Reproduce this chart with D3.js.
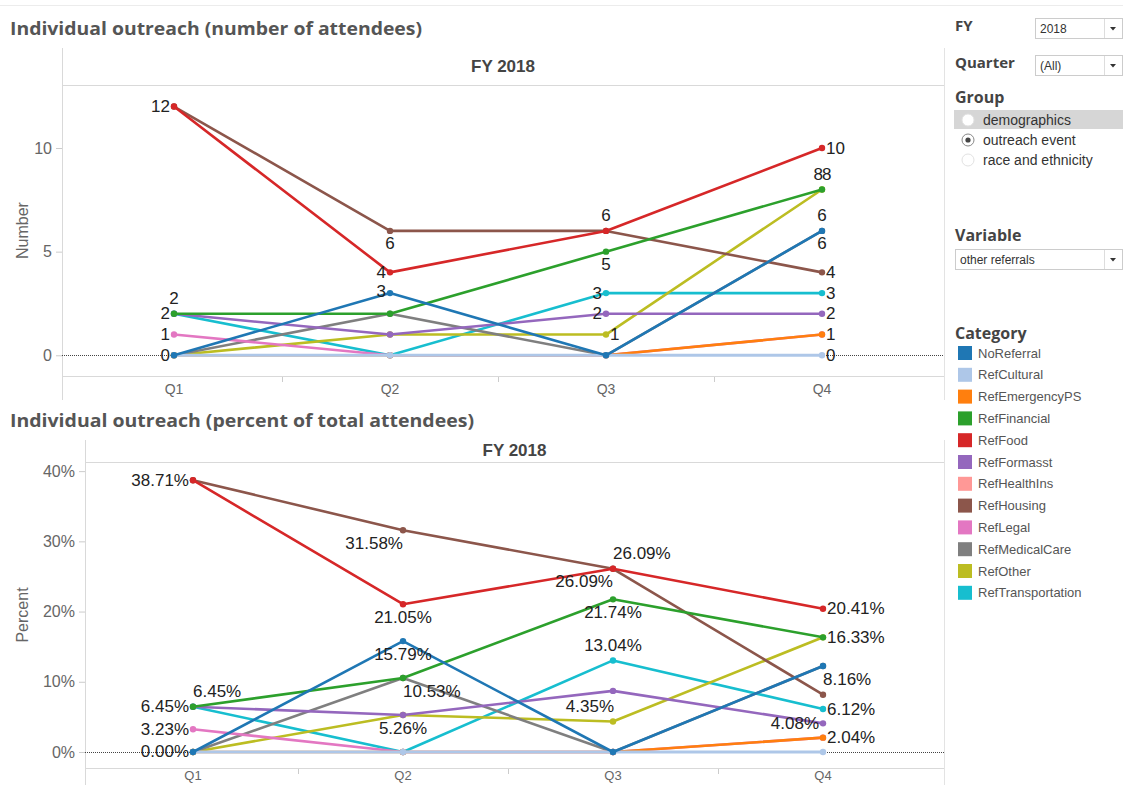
<!DOCTYPE html>
<html><head><meta charset="utf-8">
<script src="https://cdn.jsdelivr.net/npm/d3@7"></script>
<style>
body{margin:0;background:#fff;}
svg{display:block;}
</style></head>
<body><svg id="c" width="1123" height="785"></svg>
<script>
// ---------- data ----------
const quarters = ["Q1","Q2","Q3","Q4"];
const categories = ["NoReferral","RefCultural","RefEmergencyPS","RefFinancial","RefFood","RefFormasst","RefHealthIns","RefHousing","RefLegal","RefMedicalCare","RefOther","RefTransportation"];
const palette = ["#1f77b4","#aec7e8","#ff7f0e","#2ca02c","#d62728","#9467bd","#ff9896","#8c564b","#e377c2","#7f7f7f","#bcbd22","#17becf"];

// number of attendees per quarter
const cntNoReferral     = [0, 3, 0, 6];
const cntCultural       = [0, 0, 0, 0];
const cntEmergencyPS    = [0, 0, 0, 1];
const cntFinancial      = [2, 2, 5, 8];
const cntFood           = [12, 4, 6, 10];
const cntFormasst       = [2, 1, 2, 2];
const cntHealthIns      = [null, null, null, null];
const cntHousing        = [12, 6, 6, 4];
const cntLegal          = [1, 0, 0, 1];
const cntMedicalCare    = [0, 2, 0, 6];
const cntOther          = [0, 1, 1, 8];
const cntTransportation = [2, 0, 3, 3];

// percent of total attendees per quarter
const pctNoReferral     = [0, 15.79, 0, 12.24];
const pctCultural       = [0, 0, 0, 0];
const pctEmergencyPS    = [0, 0, 0, 2.04];
const pctFinancial      = [6.45, 10.53, 21.74, 16.33];
const pctFood           = [38.71, 21.05, 26.09, 20.41];
const pctFormasst       = [6.45, 5.26, 8.70, 4.08];
const pctHealthIns      = [null, null, null, null];
const pctHousing        = [38.71, 31.58, 26.09, 8.16];
const pctLegal          = [3.23, 0, 0, 2.04];
const pctMedicalCare    = [0, 10.53, 0, 12.24];
const pctOther          = [0, 5.26, 4.35, 16.33];
const pctTransportation = [6.45, 0, 13.04, 6.12];

const countTicks = [0, 5, 10];
const percentTicks = [0, 10, 20, 30, 40];

const countSeries = [cntNoReferral,cntCultural,cntEmergencyPS,cntFinancial,cntFood,cntFormasst,cntHealthIns,cntHousing,cntLegal,cntMedicalCare,cntOther,cntTransportation];
const pctSeries = [pctNoReferral,pctCultural,pctEmergencyPS,pctFinancial,pctFood,pctFormasst,pctHealthIns,pctHousing,pctLegal,pctMedicalCare,pctOther,pctTransportation];

// which points carry a label, and where (L/R/A/B, AS/AE = above start/end, BS/BE = below start/end)
const countLabels = [
  ["RefFood",0,"L"],["RefFinancial",0,"A"],["RefTransportation",0,"L"],["RefLegal",0,"L"],["RefOther",0,"L"],
  ["RefHousing",1,"B"],["RefFood",1,"L"],["NoReferral",1,"LA"],
  ["RefFood",2,"A"],["RefFinancial",2,"B"],["RefTransportation",2,"L"],["RefFormasst",2,"L"],["RefOther",2,"R"],
  ["RefFood",3,"R"],["RefFinancial",3,"AE"],["RefOther",3,"AS"],["NoReferral",3,"A"],["RefMedicalCare",3,"B"],
  ["RefHousing",3,"R"],["RefTransportation",3,"R"],["RefFormasst",3,"R"],["RefEmergencyPS",3,"R"],["RefCultural",3,"R"]
];
const pctLabels = [
  ["RefFood",0,"L"],["RefFinancial",0,"AS"],["RefTransportation",0,"L"],["RefLegal",0,"L"],["RefOther",0,"L"],
  ["RefHousing",1,"BE"],["RefFood",1,"B"],["NoReferral",1,"B"],["RefMedicalCare",1,"BS"],["RefOther",1,"B"],
  ["RefFood",2,"AS"],["RefHousing",2,"BE"],["RefFinancial",2,"B"],["RefTransportation",2,"A"],["RefOther",2,"AE"],
  ["RefFood",3,"R"],["RefFinancial",3,"R"],["RefHousing",3,"AS"],["RefTransportation",3,"R"],["RefFormasst",3,"L"],["RefEmergencyPS",3,"R"]
];

// ---------- drawing ----------
const svg = d3.select("#c");
const color = d3.scaleOrdinal(categories, palette);
const labelFont = "'Liberation Sans', Arial, sans-serif";
const titleFont = "'Open Sans', 'DejaVu Sans', sans-serif";

svg.append("line").attr("x1",0).attr("x2",1123).attr("y1",5.5).attr("y2",5.5).attr("stroke","#ececec");

function panel(o){
  const g = svg.append("g");
  g.append("text").attr("x",10).attr("y",o.titleY).text(o.title)
    .attr("font-family",titleFont).attr("font-weight",700).attr("font-size",18).attr("fill","#555")
    .attr("textLength",o.titleLen).attr("lengthAdjust","spacingAndGlyphs");
  const x = d3.scaleBand().domain(quarters).range(o.xRange);
  const y = d3.scaleLinear().domain(o.yDomain).range([o.plotBottom, o.plotTop]);
  const cx = q => x(q) + x.bandwidth()/2;
  // frame lines
  g.append("line").attr("x1",o.left+0.5).attr("x2",o.left+0.5).attr("y1",o.axisTop).attr("y2",o.axisBottom).attr("stroke","#d9d9d9");
  g.append("line").attr("x1",o.left).attr("x2",944).attr("y1",o.plotTop+0.5).attr("y2",o.plotTop+0.5).attr("stroke","#d9d9d9");
  g.append("line").attr("x1",o.left).attr("x2",944).attr("y1",o.plotBottom+0.5).attr("y2",o.plotBottom+0.5).attr("stroke","#d9d9d9");
  g.append("line").attr("x1",944.5).attr("x2",944.5).attr("y1",o.axisTop).attr("y2",o.axisBottom).attr("stroke","#e3e3e3");
  g.append("text").attr("x",(o.left+944)/2).attr("y",o.headerY).attr("text-anchor","middle")
    .attr("font-family","'Liberation Sans', Arial, sans-serif").attr("font-weight","bold").attr("font-size",17).attr("fill","#444").text("FY 2018");
  // y axis
  const ya = g.append("g").attr("transform",`translate(${o.left},0)`)
    .call(d3.axisLeft(y).tickValues(o.ticks).tickFormat(o.tickFmt).tickSize(6).tickPadding(4));
  ya.select(".domain").remove();
  ya.selectAll("line").attr("stroke","#ccc");
  ya.selectAll("text").attr("font-family",labelFont).attr("font-size",16).attr("fill","#666");
  g.append("text").attr("transform",`translate(${o.yTitleX},${(o.plotTop+o.plotBottom)/2}) rotate(-90)`)
    .attr("text-anchor","middle").attr("font-family",labelFont).attr("font-size",16).attr("fill","#666").text(o.yTitle);
  // x axis
  const xa = g.append("g").attr("transform",`translate(0,${o.plotBottom})`)
    .call(d3.axisBottom(x).tickSize(0).tickPadding(o.xPad));
  xa.select(".domain").remove();
  xa.selectAll("text").attr("font-family",labelFont).attr("font-size",o.xFont).attr("fill","#666");
  g.selectAll(".bt").data(quarters.slice(1)).join("line")
    .attr("x1",q=>x(q)+0.5).attr("x2",q=>x(q)+0.5).attr("y1",o.plotBottom+1).attr("y2",o.plotBottom+6).attr("stroke","#ccc");
  // zero line
  g.append("line").attr("x1",o.left).attr("x2",944).attr("y1",Math.round(y(0))+0.5).attr("y2",Math.round(y(0))+0.5)
    .attr("stroke","#444").attr("stroke-dasharray","1,1");
  // series (first legend item on top)
  const line = d3.line().defined(d=>d.v!=null).x(d=>cx(d.q)).y(d=>y(d.v));
  const order = d3.range(categories.length).reverse();
  order.forEach(i=>{
    const pts = quarters.map((q,j)=>({q, v:o.series[i][j]}));
    g.append("path").datum(pts).attr("d",line).attr("fill","none").attr("stroke",palette[i])
      .attr("stroke-width",i===1?3:2.6).attr("stroke-linejoin","round");
    g.selectAll(null).data(pts.filter(p=>p.v!=null)).join("circle")
      .attr("cx",p=>cx(p.q)).attr("cy",p=>y(p.v)).attr("r",3.2).attr("fill",palette[i]);
  });
  // labels
  o.labels.forEach(([cat,qi,pos])=>{
    const v = o.series[categories.indexOf(cat)][qi];
    const px = cx(quarters[qi]), py = y(v);
    let tx=px, ty=py, anchor="middle";
    if(pos==="L"){tx=px-4;anchor="end";}
    if(pos==="LA"){tx=px-4;anchor="end";ty=py-2;}
    if(pos==="R"){tx=px+4;anchor="start";}
    if(pos==="A"){ty=py-15;}
    if(pos==="B"){ty=py+13;}
    if(pos==="AS"){ty=py-15;anchor="start";}
    if(pos==="AE"){ty=py-15;anchor="end";tx=px+1;}
    if(pos==="BS"){ty=py+13;anchor="start";}
    if(pos==="BE"){ty=py+13;anchor="end";}
    g.append("text").attr("x",tx).attr("y",ty).attr("text-anchor",anchor).attr("dominant-baseline","central")
      .attr("font-family",labelFont).attr("font-size",17).attr("fill","#222").text(o.fmt(v));
  });
}

panel({title:"Individual outreach (number of attendees)", titleLen:412, titleY:35, headerY:72,
  left:62, axisTop:48, axisBottom:400, plotTop:85, plotBottom:376, xRange:[66,930], xPad:8, xFont:14,
  yDomain:[-1,13.04], ticks:countTicks, tickFmt:d3.format("d"), yTitle:"Number", yTitleX:28,
  series:countSeries, labels:countLabels, fmt:d3.format("d")});

panel({title:"Individual outreach (percent of total attendees)", titleLen:464, titleY:427, headerY:456,
  left:85, axisTop:440, axisBottom:785, plotTop:462, plotBottom:768, xRange:[88,928], xPad:3, xFont:13,
  yDomain:[-2.28,41.3], ticks:percentTicks, tickFmt:d=>d+"%", yTitle:"Percent", yTitleX:28,
  series:pctSeries, labels:pctLabels, fmt:v=>v.toFixed(2)+"%"});

// ---------- right panel ----------
const rp = svg.append("g");
const boldLbl = (t,x,y,s)=>rp.append("text").attr("x",x).attr("y",y).text(t)
  .attr("font-family",titleFont).attr("font-weight",700).attr("font-size",s).attr("fill","#444");
function dropdown(x,y,w,label){
  rp.append("rect").attr("x",x+0.5).attr("y",y+0.5).attr("width",w).attr("height",20).attr("fill","#fff").attr("stroke","#ccc");
  rp.append("line").attr("x1",x+w-17.5).attr("x2",x+w-17.5).attr("y1",y+1).attr("y2",y+20).attr("stroke","#ddd");
  rp.append("path").attr("d",`M${x+w-12},${y+9} l6,0 l-3,3.5z`).attr("fill","#333");
  rp.append("text").attr("x",x+5).attr("y",y+15).text(label).attr("font-family",labelFont).attr("font-size",12).attr("fill","#333");
}
boldLbl("FY",955,31,15); dropdown(1035,18,87,"2018");
boldLbl("Quarter",955,68,15); dropdown(1035,55,87,"(All)");
boldLbl("Group",955,103,16);
rp.append("rect").attr("x",954).attr("y",110).attr("width",169).attr("height",19).attr("fill","#d6d6d6");
const groups = ["demographics","outreach event","race and ethnicity"];
groups.forEach((gname,i)=>{
  const yy = 120 + i*20;
  rp.append("circle").attr("cx",968).attr("cy",yy).attr("r",6).attr("fill","#fff").attr("stroke", i===1?"#888":"#e2e2e2");
  if(i===1) rp.append("circle").attr("cx",968).attr("cy",yy).attr("r",2.6).attr("fill","#444");
  rp.append("text").attr("x",983).attr("y",yy+5).text(gname).attr("font-family",labelFont).attr("font-size",14).attr("fill","#333");
});
boldLbl("Variable",955,241,16); dropdown(955,249,167,"other referrals");
boldLbl("Category",955,339,16);
categories.forEach((c,i)=>{
  const yy = 346 + i*21.8;
  rp.append("rect").attr("x",958).attr("y",yy).attr("width",14).attr("height",14).attr("fill",color(c));
  rp.append("text").attr("x",978).attr("y",yy+11.5).text(c).attr("font-family",labelFont).attr("font-size",13).attr("fill","#555");
});
</script></body></html>
